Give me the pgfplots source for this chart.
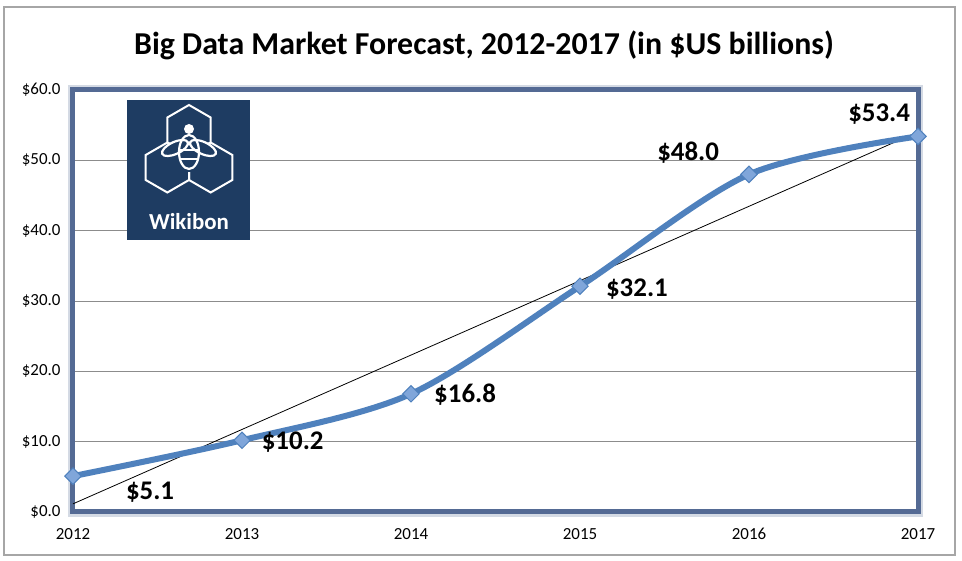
\documentclass[border=0pt]{standalone}
\usepackage{fontspec}
\setmainfont{Carlito}
\usepackage{pgfplots}
\pgfplotsset{compat=1.18}
\definecolor{xlblue}{RGB}{79,129,189}
\definecolor{mkblue}{RGB}{128,166,218}
\definecolor{frameblue}{RGB}{84,106,148}
\definecolor{logonavy}{RGB}{30,60,98}

\begin{document}
\begin{tikzpicture}[x=1bp,y=1bp]
\useasboundingbox (-73,-49) rectangle (889,512);
\draw[line width=2.5bp, black!35] (-69,-43) rectangle (882,505);
\node[font=\fontsize{32}{36}\selectfont\bfseries] at (411,467)
  {Big Data Market Forecast, 2012-2017 (in \$US billions)};
% soft shadow round the plot area
\draw[line width=10bp, frameblue!25] (0,0) rectangle (845,422);
\begin{axis}[
  at={(0,0)}, anchor=south west,
  scale only axis, width=845bp, height=422bp,
  xmin=2012, xmax=2017, ymin=0, ymax=60,
  xtick={2012,2013,2014,2015,2016,2017},
  ytick={0,10,20,30,40,50,60},
  ymajorgrids=true,
  grid style={black!45, line width=0.6bp},
  axis line style={frameblue, line width=5bp},
  tick style={draw=none},
  axis background/.style={fill=white},
  /pgf/number format/assume math mode=true,
  /pgf/number format/1000 sep={},
  xticklabel style={font=\fontsize{17}{20}\selectfont, yshift=-13bp},
  yticklabel style={font=\fontsize{17}{20}\selectfont, xshift=-9bp},
  yticklabel={\$\pgfmathprintnumber[fixed,fixed zerofill,precision=1]{\tick}},
  clip=false,
]
\addplot[black, line width=0.8bp] coordinates {(2012,1.16) (2017,54.04)};
\addplot[xlblue, line width=6bp, smooth, tension=0.5,
  mark=square*, mark size=5.8bp,
  mark options={fill=mkblue, draw=xlblue, line width=1bp, solid, rotate=45}]
  coordinates {(2012,5.1) (2013,10.2) (2014,16.8) (2015,32.1) (2016,48.0) (2017,53.4)};
\begin{scope}[every node/.style={font=\fontsize{27}{30}\selectfont\bfseries}]
\node at (axis cs:2012.456,2.85) {\$5.1};
\node at (axis cs:2013.30,9.96) {\$10.2};
\node at (axis cs:2014.320,16.64) {\$16.8};
\node at (axis cs:2015.337,31.7) {\$32.1};
\node at (axis cs:2015.640,51.07) {\$48.0};
\node at (axis cs:2016.770,56.5) {\$53.4};
\end{scope}
\end{axis}
% Wikibon logo (px -> X=px-73, Y=512-py)
\fill[logonavy] (54,272) rectangle (177,412);
\begin{scope}[white, line width=2bp]
\draw (116,382) ++(90:25) -- ++(210:25) -- ++(270:25) -- ++(330:25) -- ++(30:25) -- ++(90:25) -- cycle;
\draw (94.35,344.5) ++(90:25) -- ++(210:25) -- ++(270:25) -- ++(330:25) -- ++(30:25) -- ++(90:25) -- cycle;
\draw (137.65,344.5) ++(90:25) -- ++(210:25) -- ++(270:25) -- ++(330:25) -- ++(30:25) -- ++(90:25) -- cycle;
\end{scope}
\fill[logonavy] (116,360) circle (20);
\begin{scope}[white, line width=2.2bp]
\fill (116,383) circle (5);
\draw (116,360) ellipse (10 and 17);
\draw[rotate around={25:(102,364)}] (102,364) ellipse (14 and 6);
\draw[rotate around={-25:(130,364)}] (130,364) ellipse (14 and 6);
\draw (107,362) -- (125,362);
\draw (108,353) -- (124,353);
\end{scope}
\node[white, font=\fontsize{23}{26}\selectfont\bfseries] at (116,290) {Wikibon};
\end{tikzpicture}
\end{document}
